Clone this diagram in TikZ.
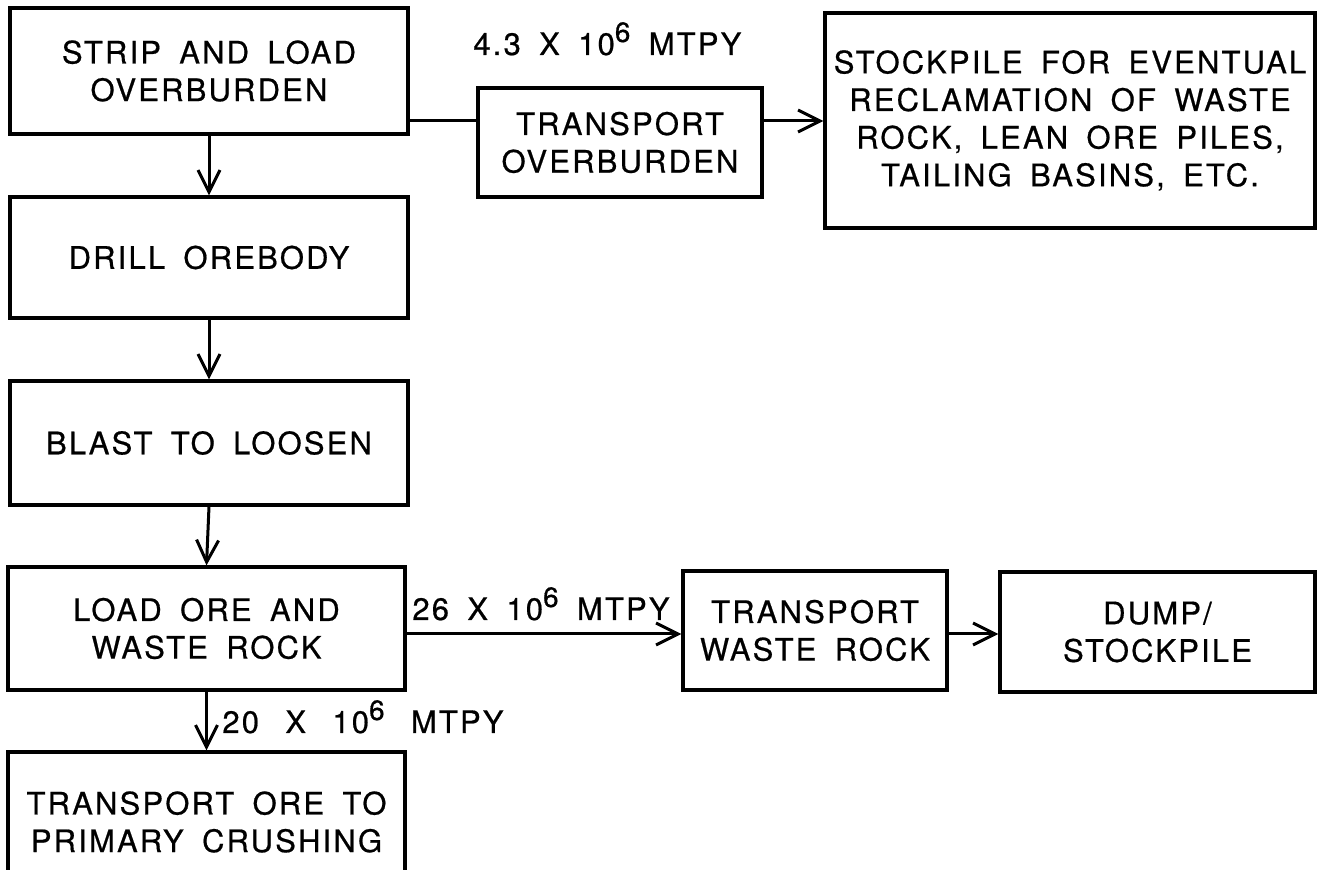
\documentclass[tikz,border=0pt]{standalone}
\usepackage{fontspec}
\setmainfont{TeX Gyre Heros}[LetterSpace=7, WordSpace=1.7, FakeBold=0.6]
\usetikzlibrary{arrows.meta}
\newcommand\supsix{\raisebox{6.5pt}{\fontsize{14}{14}\selectfont 6}}
\begin{document}
\begin{tikzpicture}[x=0.5pt,y=-0.5pt,
  box/.style={draw, rectangle, line width=1.6pt, align=center, inner sep=0pt,
    font=\fontsize{15.5}{18.8}\selectfont},
  lbl/.style={inner sep=0pt, anchor=base west, font=\fontsize{15.5}{16}\selectfont},
  conn/.style={line width=1.5pt},
  arr/.style={line width=1.5pt, -{Straight Barb[length=11pt,width=11pt,line width=1.5pt]}}]
\useasboundingbox (0,0) rectangle (1319,870);
\fill[white] (0,0) rectangle (1319,870);

\node[box, minimum width=199pt, minimum height=63pt] (strip) at (209,71) {STRIP AND LOAD\\OVERBURDEN};
\node[box, minimum width=199pt, minimum height=60.5pt] (drill) at (209,257.5) {DRILL OREBODY};
\node[box, minimum width=199pt, minimum height=62pt] (blast) at (209,443) {BLAST TO LOOSEN};
\node[box, minimum width=198.5pt, minimum height=61.5pt] (load) at (206.5,628.5) {LOAD ORE AND\\WASTE ROCK};
\node[box, minimum width=198.5pt, minimum height=70pt] (tore) at (206.5,822) {TRANSPORT ORE TO\\PRIMARY CRUSHING};
\node[box, minimum width=142pt, minimum height=54.5pt] (tob) at (620,142.5) {TRANSPORT\\OVERBURDEN};
\node[box, minimum width=245pt, minimum height=107.5pt] (stock) at (1070,120.5) {STOCKPILE FOR EVENTUAL\\RECLAMATION OF WASTE\\ROCK, LEAN ORE PILES,\\TAILING BASINS, ETC.};
\node[box, minimum width=132pt, minimum height=59.5pt] (twr) at (815,630.5) {TRANSPORT\\WASTE ROCK};
\node[box, minimum width=157.5pt, minimum height=60pt] (dump) at (1157.5,632) {DUMP/\\STOCKPILE};

\coordinate (ob) at (443,121);
\coordinate (wr) at (540,634);

\draw[arr] (strip.south) -- (drill.north);
\draw[arr] (drill.south) -- (blast.north);
\draw[arr] (blast.south) -- (load.north);
\draw[arr] (load.south) -- (tore.north);
\draw[conn] (strip.east |- ob) -- (tob.west |- ob);
\draw[arr] (tob.east |- ob) -- (stock.west |- ob);
\draw[arr] (load.east |- wr) -- (twr.west |- wr);
\draw[arr] (twr.east |- wr) -- (dump.west |- wr);

\node[lbl] (l1) at (473,55) {4.3 X 10\supsix\ MTPY};
\node[lbl] (l2) at (412,620) {26 X 10\supsix\ MTPY};
\node[lbl] (l3) at (222,733) {20\hspace{4pt} X\hspace{4pt} 10\supsix\hspace{4pt} MTPY};
\end{tikzpicture}
\end{document}
